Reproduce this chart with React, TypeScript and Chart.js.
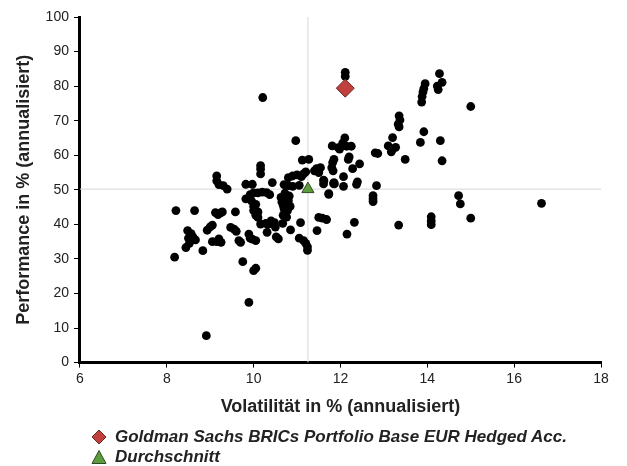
import React, { useEffect, useRef } from "react";
import { Chart, registerables } from "chart.js";

Chart.register(...registerables);

// Peer group funds: [volatility %, performance %]
const peers: [number, number][] = [
  [8.21, 44.0], [8.64, 44.0], [8.18, 30.5], [8.44, 33.3], [8.5, 36.0], [8.48, 38.2], [8.56, 37.3],
  [8.6, 36.4], [8.66, 35.5], [8.52, 34.5], [8.83, 32.4], [8.91, 7.8], [8.93, 38.3], [9.0, 39.3],
  [9.05, 39.8], [9.05, 35.0], [9.15, 35.0], [9.25, 34.8], [9.2, 35.8], [9.12, 43.4], [9.18, 42.8],
  [9.24, 43.3], [9.28, 43.6], [9.58, 43.6], [9.47, 39.1], [9.55, 38.6], [9.6, 38.0], [9.66, 35.3],
  [9.7, 34.8], [9.75, 29.2], [9.89, 37.2], [9.92, 36.0], [9.97, 35.7], [10.05, 35.3], [10.0, 26.6],
  [10.05, 27.3], [9.89, 17.4], [10.0, 44.0], [10.0, 45.2], [10.05, 42.6], [10.16, 40.1], [10.28, 40.3],
  [10.33, 40.0], [10.31, 37.7], [10.48, 40.5], [10.5, 39.2], [10.52, 36.4], [10.57, 35.8], [10.85, 38.4],
  [11.08, 40.5], [11.15, 35.3], [11.2, 34.5], [11.24, 33.5], [11.24, 32.5], [11.05, 36.0], [11.46, 38.2],
  [11.5, 42.0], [11.58, 41.8], [11.68, 41.4], [10.1, 42.0], [10.4, 41.0], [10.67, 40.3],
  [10.63, 47.8], [10.65, 46.5], [10.68, 45.5], [10.7, 44.5], [10.72, 43.5], [10.68, 42.6], [10.76, 42.1],
  [10.8, 46.8], [10.82, 48.2], [10.78, 44.0], [10.72, 49.0], [10.84, 45.2],
  [9.82, 47.4], [9.92, 48.6], [10.0, 49.1], [10.1, 49.1], [10.2, 49.3], [10.3, 49.2], [10.37, 48.6],
  [9.95, 46.8], [10.05, 45.8], [10.1, 43.6],
  [9.15, 54.0], [9.15, 52.6], [9.2, 51.5], [9.3, 51.2], [9.39, 50.2], [9.82, 51.6], [9.97, 51.6],
  [10.43, 52.1], [10.16, 57.0], [10.16, 56.0], [10.16, 54.6],
  [10.21, 76.7], [10.97, 64.2], [11.12, 58.6], [11.27, 58.8],
  [10.8, 53.5], [10.9, 54.0], [11.0, 54.3], [11.1, 53.8], [11.15, 54.6], [11.2, 55.2],
  [10.7, 51.5], [10.8, 51.2], [10.9, 51.0], [11.05, 51.3],
  [11.4, 55.5], [11.45, 56.1], [11.5, 55.0], [11.54, 56.4], [11.62, 52.6], [11.73, 48.9], [11.85, 52.1],
  [11.81, 62.7], [11.85, 58.8], [11.82, 57.9], [11.8, 56.4], [11.83, 55.5], [11.95, 62.2],
  [12.11, 84.0], [12.11, 82.8], [14.28, 83.6], [14.34, 81.1], [14.23, 80.0], [14.25, 79.0], [13.95, 80.7],
  [13.92, 79.3], [13.9, 78.3], [13.88, 77.0], [13.87, 75.4], [15.0, 74.1], [13.35, 71.4], [13.37, 70.2],
  [13.33, 69.0], [13.35, 68.2], [13.2, 65.1], [13.1, 62.7], [13.2, 61.8], [13.27, 62.3], [13.17, 61.0],
  [13.92, 66.8], [13.84, 63.7], [14.3, 64.2], [14.34, 58.4], [13.49, 58.8], [12.8, 60.7], [12.86, 60.5],
  [12.1, 65.0], [12.05, 63.5], [12.14, 62.6], [12.25, 62.6], [11.98, 61.8], [12.2, 59.5], [12.18, 58.8],
  [12.44, 57.5], [12.28, 56.1], [12.07, 53.8], [12.39, 52.3], [12.37, 51.6], [11.86, 51.7], [11.61, 52.8],
  [12.83, 51.2], [12.75, 48.3], [12.75, 47.4], [12.75, 46.6], [14.72, 48.3], [14.76, 45.9], [16.63, 46.1],
  [15.0, 41.8], [14.09, 42.2], [14.09, 41.0], [14.09, 39.9], [13.34, 39.8], [12.32, 40.6], [12.15, 37.2],
  [11.73, 48.7], [12.07, 51.0], [11.84, 51.8], [11.61, 51.7],
];

const fundLabel = "Goldman Sachs BRICs Portfolio Base EUR Hedged Acc.";
const fundPoint = { volatility: 12.11, performance: 79.4 };
const averageLabel = "Durchschnitt";
const averagePoint = { volatility: 11.25, performance: 50.2 };

const xTitle = "Volatilität in % (annualisiert)";
const yTitle = "Performance in % (annualisiert)";
const xRange = { min: 6, max: 18, step: 2 };
const yRange = { min: 0, max: 100, step: 10 };

const FONT = "'Liberation Sans', Arial, Helvetica, sans-serif";

export default function App() {
  const canvasRef = useRef<HTMLCanvasElement | null>(null);

  useEffect(() => {
    if (!canvasRef.current) return;
    const chart = new Chart(canvasRef.current, {
      type: "scatter",
      data: {
        datasets: [
          {
            label: fundLabel,
            data: [{ x: fundPoint.volatility, y: fundPoint.performance }],
            pointStyle: "rectRot",
            pointRadius: 9,
            backgroundColor: "#c0403d",
            borderColor: "#6b2a28",
            borderWidth: 1,
          },
          {
            label: averageLabel,
            data: [{ x: averagePoint.volatility, y: averagePoint.performance }],
            pointStyle: "triangle",
            pointRadius: 7,
            backgroundColor: "#5d9c3c",
            borderColor: "#2f4a22",
            borderWidth: 1,
          },
          {
            label: "peers",
            data: peers.map(([x, y]) => ({ x, y })),
            pointStyle: "circle",
            pointRadius: 4.4,
            backgroundColor: "#000000",
            borderWidth: 0,
          },
          {
            label: "avgV",
            type: "line",
            data: [
              { x: averagePoint.volatility, y: yRange.min },
              { x: averagePoint.volatility, y: yRange.max },
            ],
            borderColor: "#d6d6d6",
            borderWidth: 1,
            pointRadius: 0,
          },
          {
            label: "avgH",
            type: "line",
            data: [
              { x: xRange.min, y: averagePoint.performance },
              { x: xRange.max, y: averagePoint.performance },
            ],
            borderColor: "#d6d6d6",
            borderWidth: 1,
            pointRadius: 0,
          },
        ],
      } as any,
      options: {
        animation: false,
        responsive: true,
        maintainAspectRatio: false,
        layout: { padding: { left: 13, right: 26, top: 17, bottom: 48 } },
        plugins: { legend: { display: false }, tooltip: { enabled: false } },
        scales: {
          x: {
            type: "linear",
            min: xRange.min,
            max: xRange.max,
            ticks: { stepSize: xRange.step, color: "#222", font: { family: FONT, size: 14 }, padding: 3 },
            grid: { display: true, drawOnChartArea: false, drawTicks: true, tickLength: 5, color: "#000" },
            border: { color: "#000", width: 3 },
            title: {
              display: true,
              text: xTitle,
              color: "#222",
              font: { family: FONT, size: 18, weight: "bold" },
              padding: { top: 6, bottom: 0 },
            },
          },
          y: {
            type: "linear",
            min: yRange.min,
            max: yRange.max,
            ticks: { stepSize: yRange.step, color: "#222", font: { family: FONT, size: 14 }, padding: 5 },
            grid: { display: true, drawOnChartArea: false, drawTicks: true, tickLength: 6, color: "#000" },
            border: { color: "#000", width: 3 },
            title: {
              display: true,
              text: yTitle,
              color: "#222",
              font: { family: FONT, size: 18, weight: "bold" },
              padding: { top: 0, bottom: 6 },
            },
          },
        },
      } as any,
    });
    return () => chart.destroy();
  }, []);

  const legendItems = [
    { label: fundLabel, shape: "diamond", fill: "#c0403d", stroke: "#6b2a28" },
    { label: averageLabel, shape: "triangle", fill: "#5d9c3c", stroke: "#2f4a22" },
  ];

  return (
    <div style={{ position: "absolute", left: 0, top: 0, width: 627, height: 466, background: "#fff" }}>
      <canvas ref={canvasRef} />
      <div style={{ position: "absolute", left: 91, top: 427.5, fontFamily: FONT }}>
        {legendItems.map((item) => (
          <div
            key={item.label}
            style={{ display: "flex", alignItems: "center", height: 19.5, fontSize: 17, fontWeight: "bold", fontStyle: "italic", color: "#222", whiteSpace: "nowrap" }}
          >
            <svg width={16} height={16} style={{ marginRight: 8, flexShrink: 0 }}>
              {item.shape === "diamond" ? (
                <polygon points="8,1 15,8 8,15 1,8" fill={item.fill} stroke={item.stroke} strokeWidth={1} />
              ) : (
                <polygon points="8,1.5 15,14.5 1,14.5" fill={item.fill} stroke={item.stroke} strokeWidth={1} />
              )}
            </svg>
            <span>{item.label}</span>
          </div>
        ))}
      </div>
    </div>
  );
}
